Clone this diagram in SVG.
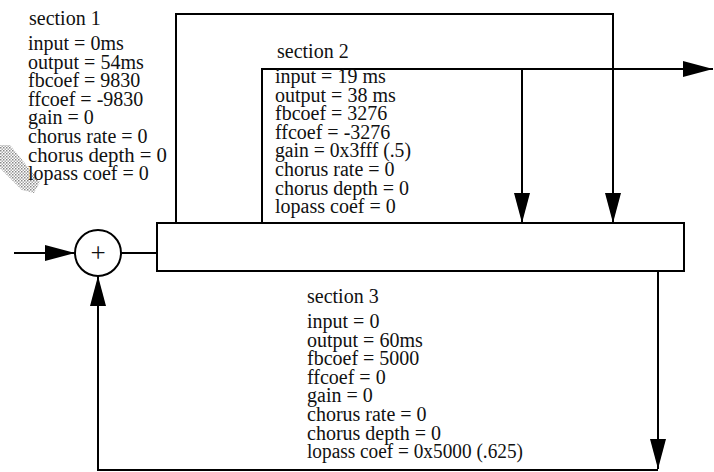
<svg xmlns="http://www.w3.org/2000/svg" width="714" height="472" viewBox="0 0 714 472">
  <style>
    .t { font-family: "Liberation Serif", "Times New Roman", serif; font-size: 20px; fill: #111; }
    .ln { fill: none; stroke: #000; stroke-width: 2; }
    .arr { fill: none; stroke: #000; stroke-width: 2; marker-end: url(#ah); }
  </style>
  <defs>
    <marker id="ah" markerUnits="userSpaceOnUse" markerWidth="30" markerHeight="16" refX="30" refY="8" orient="auto">
      <path d="M0,0 L30,8 L0,16 z" fill="#000"/>
    </marker>
    <pattern id="dots" width="3" height="3" patternUnits="userSpaceOnUse">
      <rect width="3" height="3" fill="#fff"/>
      <rect width="1.5" height="1.5" fill="#888"/>
      <rect x="1.5" y="1.5" width="1.5" height="1.5" fill="#aaa"/>
    </pattern>
  </defs>
  <rect width="714" height="472" fill="#fff"/>
  <polygon points="0,145 10,145 40,182 34,193 22,190 0,168" fill="url(#dots)"/>

  <g id="connectors">
    <line class="arr" x1="14" y1="253" x2="75" y2="253"/>
    <line class="ln" x1="121" y1="253" x2="157" y2="253"/>
    <polyline class="arr" points="176,223 176,14 613,14 613,223"/>
    <polyline class="arr" points="262,223 262,69 713,69"/>
    <line class="arr" x1="522" y1="69" x2="522" y2="223"/>
    <line class="arr" x1="658" y1="271" x2="658" y2="469"/>
    <polyline class="arr" points="658,470 98,470 98,276"/>
  </g>

  <g id="adder">
    <circle cx="98" cy="253" r="23" fill="#fff" stroke="#000" stroke-width="2"/>
    <text class="t" x="98" y="262" text-anchor="middle" style="font-size:27px">+</text>
  </g>

  <g id="delay-line">
    <rect x="157" y="223" width="527" height="48" fill="none" stroke="#000" stroke-width="2"/>
  </g>

  <g id="section1">
    <text class="t" x="29" y="25">section 1</text>
    <text class="t" x="28" y="50">input = 0ms</text>
    <text class="t" x="28" y="68.6">output = 54ms</text>
    <text class="t" x="28" y="87.2">fbcoef = 9830</text>
    <text class="t" x="28" y="105.8">ffcoef = -9830</text>
    <text class="t" x="28" y="124.4">gain = 0</text>
    <text class="t" x="28" y="143">chorus rate = 0</text>
    <text class="t" x="28" y="161.6" textLength="139" lengthAdjust="spacingAndGlyphs">chorus depth = 0</text>
    <text class="t" x="28" y="180.2">lopass coef = 0</text>
  </g>

  <g id="section2">
    <text class="t" x="277" y="58">section 2</text>
    <text class="t" x="275" y="83">input = 19 ms</text>
    <text class="t" x="275" y="101.6">output = 38 ms</text>
    <text class="t" x="275" y="120.2">fbcoef = 3276</text>
    <text class="t" x="275" y="138.8">ffcoef = -3276</text>
    <text class="t" x="275" y="157.4" textLength="136" lengthAdjust="spacingAndGlyphs">gain = 0x3fff (.5)</text>
    <text class="t" x="275" y="176">chorus rate = 0</text>
    <text class="t" x="275" y="194.6">chorus depth = 0</text>
    <text class="t" x="275" y="213.2">lopass coef = 0</text>
  </g>

  <g id="section3">
    <text class="t" x="307" y="303">section 3</text>
    <text class="t" x="307" y="328">input = 0</text>
    <text class="t" x="307" y="346.6">output = 60ms</text>
    <text class="t" x="307" y="365.2">fbcoef = 5000</text>
    <text class="t" x="307" y="383.8">ffcoef = 0</text>
    <text class="t" x="307" y="402.4">gain = 0</text>
    <text class="t" x="307" y="421">chorus rate = 0</text>
    <text class="t" x="307" y="439.6">chorus depth = 0</text>
    <text class="t" x="307" y="458.2" textLength="216" lengthAdjust="spacingAndGlyphs">lopass coef = 0x5000 (.625)</text>
  </g>
</svg>
